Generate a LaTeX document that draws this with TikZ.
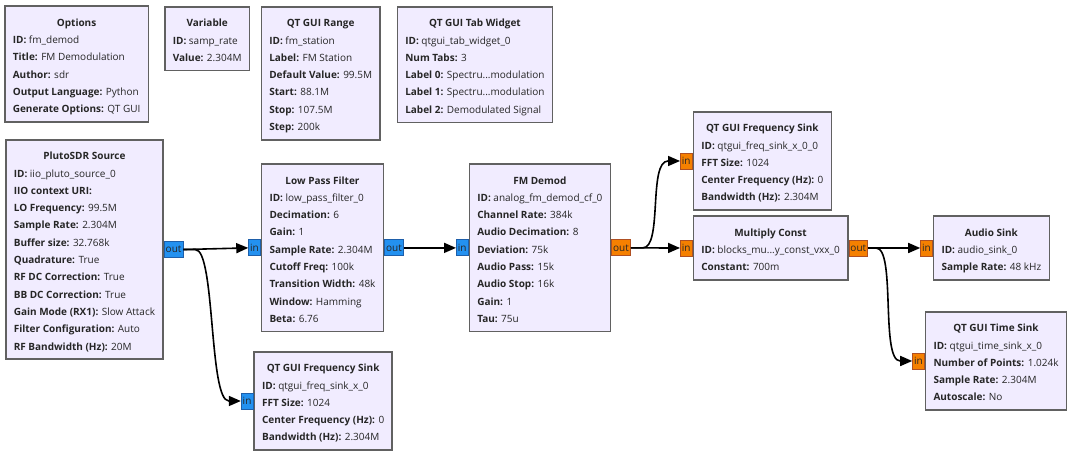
\documentclass[tikz,border=0pt]{standalone}
\usepackage{fontspec}
\setmainfont{Open Sans}
\usepackage{tikz}
\usetikzlibrary{arrows.meta,calc}

\definecolor{blockfill}{RGB}{241,236,255}
\definecolor{blockline}{RGB}{97,97,97}
\definecolor{cplxfill}{RGB}{35,145,240}
\definecolor{cplxline}{RGB}{30,95,170}
\definecolor{fltfill}{RGB}{245,128,0}
\definecolor{fltline}{RGB}{175,80,35}

% Titelzeile und Parameterzeile eines Blocks
\newcommand{\blocktitle}[1]{\multicolumn{1}{@{}c@{}}{\rule{0pt}{16pt}\textbf{#1}}}
\newcommand{\prm}[2]{\textbf{#1:} #2}

\tikzset{
  block/.style={anchor=north west, draw=blockline, fill=blockfill, line width=1.6pt,
    inner xsep=8pt, inner ysep=4pt, text=black!85,
    font=\fontsize{10}{17.3}\selectfont},
  port/.style={draw, line width=0.8pt, inner xsep=1.5pt, inner ysep=0pt,
    minimum height=16pt, text=black!85, font=\fontsize{10}{11}\selectfont},
  cplxin/.style={port, fill=cplxfill, draw=cplxline, anchor=east},
  cplxout/.style={port, fill=cplxfill, draw=cplxline, anchor=west},
  fltin/.style={port, fill=fltfill, draw=fltline, anchor=east},
  fltout/.style={port, fill=fltfill, draw=fltline, anchor=west},
  conn/.style={line width=1.6pt, -{Triangle[length=12pt,width=10pt]}}
}

\begin{document}
\begin{tikzpicture}[x=1pt,y=-1pt]
				\useasboundingbox (0,0) rectangle (1080,454);
				
				% Variablen und Optionen (obere Reihe)
				\node[block] (opts) at (4,5.5) {\begin{tabular}{@{}l@{}}\blocktitle{Options}\\
					\prm{ID}{fm\_demod}\\ \prm{Title}{FM Demodulation}\\ \prm{Author}{sdr}\\
					\prm{Output Language}{Python}\\ \prm{Generate Options}{QT GUI}\end{tabular}};
				\node[block] (var) at (164,6) {\begin{tabular}{@{}l@{}}\blocktitle{Variable}\\
					\prm{ID}{samp\_rate}\\ \prm{Value}{2.304M}\end{tabular}};
				\node[block] (range) at (260.5,6) {\begin{tabular}{@{}l@{}}\blocktitle{QT GUI Range}\\
					\prm{ID}{fm\_station}\\ \prm{Label}{FM Station}\\ \prm{Default Value}{99.5M}\\
					\prm{Start}{88.1M}\\ \prm{Stop}{107.5M}\\ \prm{Step}{200k}\end{tabular}};
				\node[block] (tabs) at (396.5,6) {\begin{tabular}{@{}l@{}}\blocktitle{QT GUI Tab Widget}\\
					\prm{ID}{qtgui\_tab\_widget\_0}\\ \prm{Num Tabs}{3}\\ \prm{Label 0}{Spectru...modulation}\\
					\prm{Label 1}{Spectru...modulation}\\ \prm{Label 2}{Demodulated Signal}\end{tabular}};
				
				% Signalkette
				\node[block] (pluto) at (5,139) {\begin{tabular}{@{}l@{}}\blocktitle{PlutoSDR Source}\\
					\prm{ID}{iio\_pluto\_source\_0}\\ \textbf{IIO context URI:}\\ \prm{LO Frequency}{99.5M}\\
					\prm{Sample Rate}{2.304M}\\ \prm{Buffer size}{32.768k}\\ \prm{Quadrature}{True}\\
					\prm{RF DC Correction}{True}\\ \prm{BB DC Correction}{True}\\
					\prm{Gain Mode (RX1)}{Slow Attack}\\ \prm{Filter Configuration}{Auto}\\
					\prm{RF Bandwidth (Hz)}{20M}\end{tabular}};
				\node[block] (lpf) at (260.7,163.3) {\begin{tabular}{@{}l@{}}\blocktitle{Low Pass Filter}\\
					\prm{ID}{low\_pass\_filter\_0}\\ \prm{Decimation}{6}\\ \prm{Gain}{1}\\
					\prm{Sample Rate}{2.304M}\\ \prm{Cutoff Freq}{100k}\\ \prm{Transition Width}{48k}\\
					\prm{Window}{Hamming}\\ \prm{Beta}{6.76}\end{tabular}};
				\node[block] (demod) at (468.5,163.3) {\begin{tabular}{@{}l@{}}\blocktitle{FM Demod}\\
					\prm{ID}{analog\_fm\_demod\_cf\_0}\\ \prm{Channel Rate}{384k}\\ \prm{Audio Decimation}{8}\\
					\prm{Deviation}{75k}\\ \prm{Audio Pass}{15k}\\ \prm{Audio Stop}{16k}\\
					\prm{Gain}{1}\\ \prm{Tau}{75u}\end{tabular}};
				\node[block] (fsinkb) at (692.5,111) {\begin{tabular}{@{}l@{}}\blocktitle{QT GUI Frequency Sink}\\
					\prm{ID}{qtgui\_freq\_sink\_x\_0\_0}\\ \prm{FFT Size}{1024}\\
					\prm{Center Frequency (Hz)}{0}\\ \prm{Bandwidth (Hz)}{2.304M}\end{tabular}};
				\node[block] (mult) at (692.5,215.3) {\begin{tabular}{@{}l@{}}\blocktitle{Multiply Const}\\
					\prm{ID}{blocks\_mu...y\_const\_vxx\_0}\\ \prm{Constant}{700m}\end{tabular}};
				\node[block] (audio) at (932.7,215.3) {\begin{tabular}{@{}l@{}}\blocktitle{Audio Sink}\\
					\prm{ID}{audio\_sink\_0}\\ \prm{Sample Rate}{48 kHz}\end{tabular}};
				\node[block] (tsink) at (924.7,311) {\begin{tabular}{@{}l@{}}\blocktitle{QT GUI Time Sink}\\
					\prm{ID}{qtgui\_time\_sink\_x\_0}\\ \prm{Number of Points}{1.024k}\\
					\prm{Sample Rate}{2.304M}\\ \prm{Autoscale}{No}\end{tabular}};
				\node[block] (fsinka) at (253.3,351) {\begin{tabular}{@{}l@{}}\blocktitle{QT GUI Frequency Sink}\\
					\prm{ID}{qtgui\_freq\_sink\_x\_0}\\ \prm{FFT Size}{1024}\\
					\prm{Center Frequency (Hz)}{0}\\ \prm{Bandwidth (Hz)}{2.304M}\end{tabular}};
				
				% Ports
				\node[cplxout] (pluto-out) at (pluto.east) {out};
				\node[cplxin] (lpf-in) at (lpf.west) {in};
				\node[cplxout] (lpf-out) at (lpf.east) {out};
				\node[cplxin] (demod-in) at (demod.west) {in};
				\node[fltout] (demod-out) at (demod.east) {out};
				\node[cplxin] (fsinka-in) at (fsinka.west) {in};
				\node[fltin] (fsinkb-in) at (fsinkb.west) {in};
				\node[fltin] (mult-in) at (mult.west) {in};
				\node[fltout] (mult-out) at (mult.east) {out};
				\node[fltin] (audio-in) at (audio.west) {in};
				\node[fltin] (tsink-in) at (tsink.west) {in};
				
				% Verbindungen
				\foreach \a/\b in {pluto-out/lpf-in, lpf-out/demod-in, demod-out/mult-in, mult-out/audio-in}
				\draw[conn] (\a.east) -- (\b.west);
				\draw[conn] (pluto-out.east) -- ++(12,0) .. controls +(20,0) and +(-20,0) .. ($(fsinka-in.west)+(-12,0)$) -- (fsinka-in.west);
				\draw[conn] (demod-out.east) -- ++(12,0) .. controls +(20,0) and +(-20,0) .. ($(fsinkb-in.west)+(-12,0)$) -- (fsinkb-in.west);
				\draw[conn] (mult-out.east) -- ++(8,0) .. controls +(20,0) and +(-20,0) .. ($(tsink-in.west)+(-12,0)$) -- (tsink-in.west);
				
			\end{tikzpicture}
\end{document}
